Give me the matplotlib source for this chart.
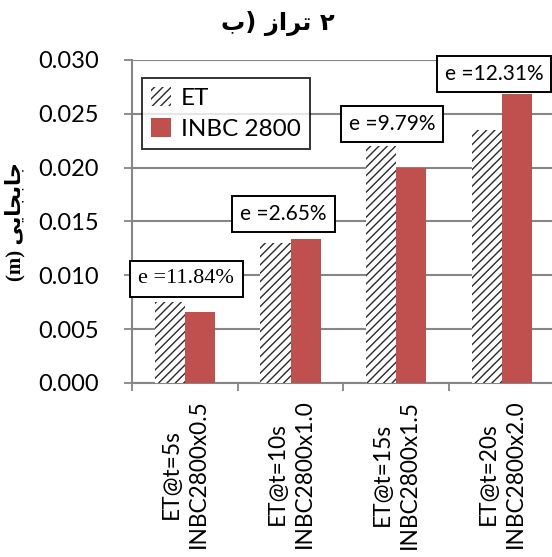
import numpy as np
import matplotlib.pyplot as plt

# date
categorii = ['ET@t=5s\nINBC2800x0.5', 'ET@t=10s\nINBC2800x1.0',
             'ET@t=15s\nINBC2800x1.5', 'ET@t=20s\nINBC2800x2.0']
et = [0.0075, 0.0130, 0.0220, 0.0235]
inbc = [0.0066, 0.01335, 0.0200, 0.0268]
erori = ['e =11.84%', 'e =2.65%', 'e =9.79%', 'e =12.31%']
y_ticks = [0.000, 0.005, 0.010, 0.015, 0.020, 0.025, 0.030]

# text persan (forme de prezentare, ordine vizuala stanga -> dreapta)
titlu = '\uFE8F) \uFEAF\uFE8D\uFEAE\uFE97 \u06F2'
eticheta_y = '(m) \uFBFD\uFBFE\uFE8E\uFEA0\uFE91\uFE8E\uFE9F'

plt.rcParams['font.family'] = ['Lato', 'DejaVu Sans']
rosu = '#C0504D'
gri = '#868686'

fig = plt.figure(figsize=(5.52, 5.57), dpi=100)
ax = fig.add_axes([0.2391, 0.3124, 0.7658, 0.5799])

x = np.arange(len(categorii))
w = 0.284
ax.bar(x - w / 2, et, w, color='white', edgecolor='#2a2a2a', hatch='////',
       linewidth=0, label='ET', zorder=3)
ax.bar(x + w / 2, inbc, w, color=rosu, linewidth=0, label='INBC 2800', zorder=3)

ax.set_xlim(-0.5, len(categorii) - 0.5)
ax.set_ylim(0, 0.030)
ax.set_yticks(y_ticks)
ax.set_yticklabels(['%.3f' % v for v in y_ticks], fontsize=17)
ax.set_xticks(x)
ax.set_xticklabels(categorii, rotation=90, fontsize=16.3, multialignment='center',
                   linespacing=1.35)
ax.tick_params(axis='x', length=0, pad=12)
ax.set_xticks(np.arange(len(categorii) + 1) - 0.5, minor=True)
ax.tick_params(axis='x', which='minor', length=6, color=gri, width=1.3)
ax.tick_params(axis='y', length=6, color=gri, width=1.3, pad=18)

ax.grid(axis='y', color=gri, linewidth=1.5, zorder=0)
for s in ['top', 'right']:
    ax.spines[s].set_visible(False)
for s in ['left', 'bottom']:
    ax.spines[s].set_color(gri)
    ax.spines[s].set_linewidth(1.5)

# casutele cu eroarea, asezate deasupra barei celei mai inalte din grup
deplasari = [(1, 10), (-5, 11), (-3, 9), (-5.5, 7.5)]
for i in range(len(erori)):
    fam = ['Liberation Serif'] if i == 0 else ['Lato']
    fs = 16 if i == 0 else 15
    ax.annotate(erori[i], (x[i], max(et[i], inbc[i])), textcoords='offset points',
                xytext=deplasari[i], ha='center', va='bottom', fontsize=fs,
                family=fam, zorder=5,
                bbox=dict(boxstyle='square,pad=0.38', fc='white', ec='black', lw=1.4))

leg = ax.legend(loc='upper left', bbox_to_anchor=(0.024, 0.945), fontsize=17.5,
                frameon=True, fancybox=False, handlelength=0.8, handleheight=0.8,
                handletextpad=0.4, borderpad=0.38, labelspacing=0.4,
                borderaxespad=0)
leg.get_frame().set_edgecolor('black')
leg.get_frame().set_linewidth(1.4)

fig.text(0.504, 0.958, titlu, ha='center', va='center', fontsize=17.5,
         fontweight='bold', family=['DejaVu Sans'])
fig.text(0.028, 0.603, eticheta_y, ha='center', va='center', rotation=90,
         fontsize=15, fontweight='bold', family=['Liberation Serif', 'DejaVu Sans'])

fig.savefig('out.png', dpi=100)
